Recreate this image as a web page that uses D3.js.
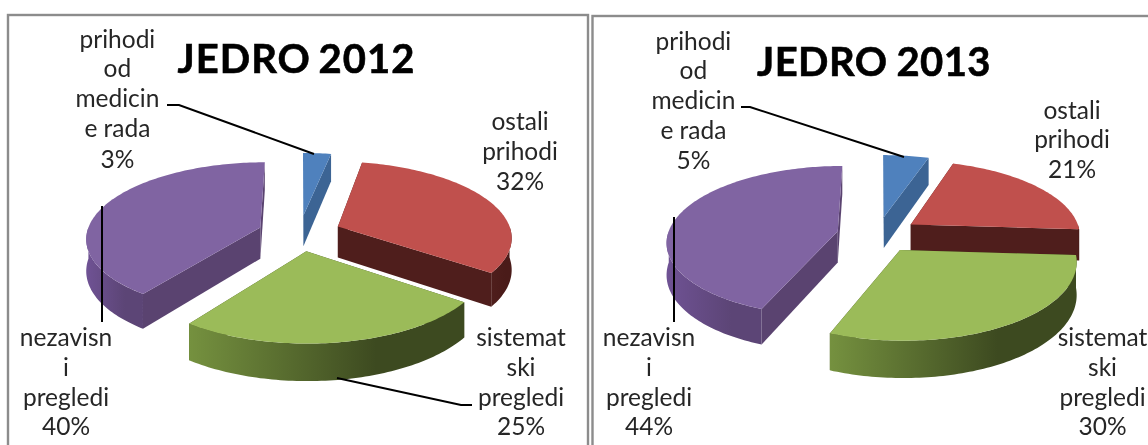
<!DOCTYPE html>
<html><head><meta charset="utf-8">
<style>html,body{margin:0;padding:0;background:#fff;overflow:hidden}svg{display:block;filter:blur(0.45px)}text{font-family:Lato,"Open Sans",sans-serif;fill:#262626}</style>
<script src="https://cdn.jsdelivr.net/npm/d3@7/dist/d3.min.js"></script>
</head><body><svg id="c" width="1148" height="445"></svg>
<script>
const categories = ["prihodi od medicine rada","ostali prihodi","sistematski pregledi","nezavisni pregledi"];
const labelLines = [["prihodi","od","medicin","e rada"],["ostali","prihodi"],["sistemat","ski","pregledi"],["nezavisn","i","pregledi"]];
const values2012 = [3,32,25,40];
const values2013 = [5,21,30,44];
const colorsTop = ["#4f81bd","#c0504d","#9bbb59","#8064a2"];
const colorsCut = ["#3c6494","#4f1e1c","#3f4d20","#5a4370"];
const wallStops = [["#3c6494","#3c6494"],["#4f1e1c","#4a1b19"],["#75913f","#3d4a20"],["#6f5294","#5c4576"]];

const charts = [
 {title:"JEDRO 2012",values:values2012,cx:299.6,cy:233,R:173.6,A:75,B:31.5,a:.13,e:.24,
  titleX:296.5,titleY:73,titleLS:1,titleWS:-3,frame:[8,15,580,460],
  labels:[[117.4,[40,69,99,129,160]],[520,[122,152,182]],[521,[338,368,398,427]],[66,[338,368,398,427]]],
  leaders:[[[167,105],[179,105],[314,154]],[[337,378],[461,405],[472,405]],[[102,206],[102,322]]]},
 {title:"JEDRO 2013",values:values2013,cx:877.6,cy:234.5,R:170,A:74.5,B:31.5,a:.13,e:.24,
  titleX:874,titleY:76,titleLS:.4,titleWS:-1,frame:[592.5,16,580,460],
  labels:[[693.4,[42,71,101,131,161]],[1072,[111,140,170]],[1102.5,[338,368,398,427]],[649,[338,368,398,427]]],
  leaders:[[[741,107],[750,107],[904,157]],[[674,217],[674,322]]]}
];

const svg = d3.select("#c");
const defs = svg.append("defs");
const pie = d3.pie().sort(null).startAngle(0).endAngle(2*Math.PI);
const line = d3.line();

charts.forEach((ch,ci)=>{
  const g = svg.append("g");
  g.append("rect").attr("x",ch.frame[0]).attr("y",ch.frame[1]).attr("width",ch.frame[2]).attr("height",ch.frame[3])
    .attr("fill","#fff").attr("stroke","#8c8c8c").attr("stroke-width",2.4);
  const project=(th,r,off,down)=>{
    const x=r*Math.sin(th)+off[0], y=-r*Math.cos(th)+off[1];
    const s=1/(1-ch.a*y);
    return [ch.cx+x*ch.R*s, ch.cy+(y*ch.A+(down?ch.B:0))*s];
  };
  const arcs = pie(ch.values).map((d,i)=>{
    const mid=(d.startAngle+d.endAngle)/2;
    return {...d,i,mid,off:[ch.e*Math.sin(mid),-ch.e*Math.cos(mid)],depth:-Math.cos(mid)};
  }).sort((p,q)=>p.depth-q.depth);
  const sample=(a0,a1)=>{const n=Math.max(2,Math.ceil((a1-a0)/0.02));return d3.range(n+1).map(k=>a0+(a1-a0)*k/n);};
  arcs.forEach(d=>{
    const ss=g.append("g");
    const top=sample(d.startAngle,d.endAngle).map(t=>project(t,1,d.off,false));
    const apexT=project(0,0,d.off,false), apexB=project(0,0,d.off,true);
    [d.startAngle,d.endAngle].forEach(t=>{
      ss.append("path").attr("d",line([apexT,project(t,1,d.off,false),project(t,1,d.off,true),apexB])+"Z")
        .attr("fill",colorsCut[d.i]);
    });
    const w0=Math.max(d.startAngle,Math.PI/2), w1=Math.min(d.endAngle,3*Math.PI/2);
    if(w1>w0){
      const id=`w${ci}${d.i}`;
      const lg=defs.append("linearGradient").attr("id",id);
      lg.append("stop").attr("offset",0).attr("stop-color",wallStops[d.i][0]);
      lg.append("stop").attr("offset",.68).attr("stop-color",wallStops[d.i][1]);
      lg.append("stop").attr("offset",1).attr("stop-color",wallStops[d.i][1]);
      const ang=sample(w0,w1);
      const pts=ang.map(t=>project(t,1,d.off,false)).concat(ang.slice().reverse().map(t=>project(t,1,d.off,true)));
      ss.append("path").attr("d",line(pts)+"Z").attr("fill",`url(#${id})`);
    }
    ss.append("path").attr("d",line([apexT,...top])+"Z").attr("fill",colorsTop[d.i]);
  });
  ch.leaders.forEach(l=>g.append("path").attr("d",line(l)).attr("fill","none").attr("stroke","#000").attr("stroke-width",2));
  g.append("text").attr("x",ch.titleX).attr("y",ch.titleY).attr("text-anchor","middle")
    .attr("font-size",40).attr("font-weight",700).style("fill","#000").style("stroke","#000").style("stroke-width",.6)
    .style("letter-spacing",ch.titleLS+"px").style("word-spacing",ch.titleWS+"px").text(ch.title);
  ch.labels.forEach((lb,i)=>{
    const lines=[...labelLines[i],ch.values[i]+"%"];
    lines.forEach((t,k)=>g.append("text").attr("x",lb[0]).attr("y",lb[1][k]+7.5).attr("text-anchor","middle")
      .attr("font-size",24.5).text(t));
  });
});
</script></body></html>
